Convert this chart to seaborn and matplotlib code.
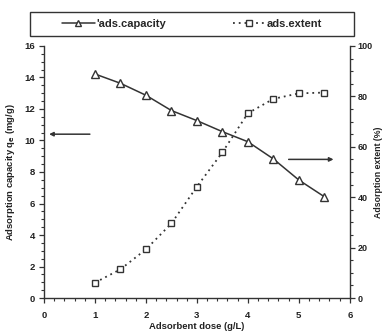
import matplotlib
matplotlib.use("Agg")
import matplotlib.pyplot as plt
from matplotlib.patches import Rectangle
from matplotlib.ticker import MultipleLocator
import seaborn as sns
import pandas as pd

# Adsorbent dose (g/L)
dose = [1.0, 1.5, 2.0, 2.5, 3.0, 3.5, 4.0, 4.5, 5.0, 5.5]
# Adsorption capacity q_e (mg/g)
capacity = [14.22, 13.63, 12.87, 11.90, 11.26, 10.56, 9.92, 8.83, 7.49, 6.43]
# Adsorption extent (%)
extent = [6.1, 11.4, 19.3, 29.6, 44.2, 57.8, 73.3, 79.0, 81.2, 81.5]

series_names = ["'ads.capacity", "ads.extent"]

df = pd.DataFrame({"dose": dose, "capacity": capacity, "extent": extent})

sns.set_style("ticks")
plt.rcParams["font.family"] = ["Liberation Sans", "DejaVu Sans"]
plt.rcParams["font.weight"] = "bold"

ink = "#333333"
txt = "#222222"
fs = 6.8

fig = plt.figure(figsize=(3.84, 3.33), dpi=100)
ax = fig.add_axes([0.1146, 0.105, 0.7964, 0.757])
ax2 = ax.twinx()

sns.lineplot(data=df, x="dose", y="capacity", ax=ax, color=ink, lw=1.1,
             marker="^", markersize=5.5, markerfacecolor="white",
             markeredgecolor=ink, markeredgewidth=1.0, sort=False)
sns.lineplot(data=df, x="dose", y="extent", ax=ax2, color=ink, lw=1.3,
             linestyle=(0, (1, 2.2)), marker="s", markersize=5,
             markerfacecolor="white", markeredgecolor=ink,
             markeredgewidth=1.0, sort=False)

ax.set_xlim(0, 6)
ax.set_ylim(0, 16)
ax2.set_ylim(0, 100)

ax.xaxis.set_major_locator(MultipleLocator(1))
ax.xaxis.set_minor_locator(MultipleLocator(0.2))
ax.yaxis.set_major_locator(MultipleLocator(2))
ax.yaxis.set_minor_locator(MultipleLocator(0.5))
ax2.yaxis.set_major_locator(MultipleLocator(20))
ax2.yaxis.set_minor_locator(MultipleLocator(5))

for a in (ax, ax2):
    a.spines["top"].set_visible(False)
    for s in a.spines.values():
        s.set_color(ink)
        s.set_linewidth(1.0)
    a.tick_params(which="major", length=3.5, width=0.9, color=ink,
                  labelsize=fs, labelcolor=txt, direction="out")
    a.tick_params(which="minor", length=2, width=0.8, color=ink,
                  direction="out")
ax.spines["right"].set_visible(False)
ax2.spines["left"].set_visible(False)
ax2.spines["bottom"].set_visible(False)
ax.tick_params(axis="x", which="major", pad=6)
ax.tick_params(axis="y", which="major", pad=3)
ax2.tick_params(axis="y", which="major", pad=2, labelsize=6.5)

for lab in ax.get_xticklabels() + ax.get_yticklabels() + ax2.get_yticklabels():
    lab.set_fontweight("bold")

ax.set_xlabel("Adsorbent dose (g/L)", fontsize=fs, fontweight="bold",
              labelpad=1, color=txt)
ax.set_ylabel("Adsorption capacity q$_\\mathbf{e}$ (mg/g)", fontsize=fs,
              fontweight="bold", labelpad=5, color=txt)
ax2.set_ylabel("Adsorption extent (%)", fontsize=6.3, fontweight="bold",
               color=txt, va="center", rotation=90)
ax2.yaxis.set_label_coords(1.093, 0.5)

# Arrows pointing each curve to its own axis
ax.annotate("", xy=(0.1, 10.4), xytext=(0.9, 10.4),
            arrowprops=dict(arrowstyle="-|>", color=ink, lw=1.1,
                            mutation_scale=6, shrinkA=0, shrinkB=0))
ax2.annotate("", xy=(5.68, 55), xytext=(4.8, 55),
             arrowprops=dict(arrowstyle="-|>", color=ink, lw=1.1,
                             mutation_scale=6, shrinkA=0, shrinkB=0))

# Legend in a framed band above the plot
h1 = plt.Line2D([], [], color=ink, lw=1.1, marker="^", markersize=5,
                markerfacecolor="white", markeredgecolor=ink)
h2 = plt.Line2D([], [], color=ink, lw=1.3, linestyle=(0, (1, 2.2)),
                marker="s", markersize=4.5, markerfacecolor="white",
                markeredgecolor=ink)
fig.patches.append(Rectangle((0.078, 0.892), 0.844, 0.072,
                             transform=fig.transFigure, fill=False,
                             edgecolor=ink, lw=1.0))
fig.legend([h1, h2], series_names, loc="center",
           bbox_to_anchor=(0.5, 0.928), ncol=2, frameon=False,
           handlelength=3.0, handletextpad=0.1, columnspacing=6.0,
           prop={"size": 8, "weight": "bold"})

fig.savefig("out.png", dpi=100)
